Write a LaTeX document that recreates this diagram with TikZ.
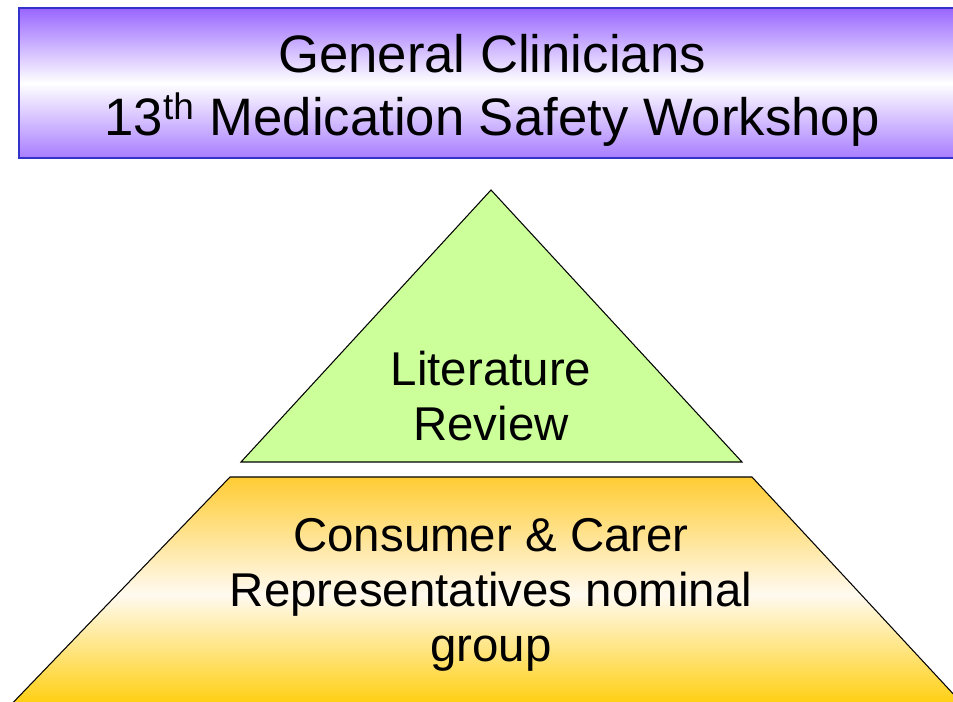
\documentclass[tikz,border=0pt]{standalone}
\usepackage{fontspec}
\setmainfont{Liberation Sans}
\usetikzlibrary{positioning}

\definecolor{titleviolet}{RGB}{153,102,255}
\definecolor{titleedge}{RGB}{51,51,204}
\definecolor{toplime}{RGB}{204,255,153}
\definecolor{baseamber}{RGB}{255,204,51}
\definecolor{basegold}{RGB}{255,204,0}
\definecolor{basecream}{RGB}{255,250,240}

\tikzset{tiertext/.style={align=center, font=\fontsize{27}{31.3}\selectfont}}

\begin{document}
\begin{tikzpicture}[x=0.02cm, y=-0.02cm]
\useasboundingbox (0,0) rectangle (953,702);

% title banner
\shadedraw[top color=titleviolet, bottom color=titleviolet!85, middle color=white, draw=titleedge, line width=1.1pt] (19,8) rectangle (975,158);
\node[align=center, font=\fontsize{30}{35.8}\selectfont] (title) at (492,90) {General Clinicians\\13\textsuperscript{th} Medication Safety Workshop};

% top of the pyramid
\coordinate (apex) at (491,190);
\coordinate (tipL) at (241,462);
\coordinate (tipR) at (742,462);
\filldraw[fill=toplime, draw=black, line width=0.6pt] (apex) -- (tipL) -- (tipR) -- cycle;
\node[tiertext] (lit) at (491,396) {Literature\\Review};

% base of the pyramid
\coordinate (baseTL) at (230,477);
\coordinate (baseTR) at (752,477);
\coordinate (baseBL) at (4,712);
\coordinate (baseBR) at (970,712);
\shadedraw[top color=baseamber, bottom color=basegold, middle color=basecream, draw=black, line width=0.6pt] (baseBL) -- (baseTL) -- (baseTR) -- (baseBR) -- cycle;
\node[tiertext] (group) at (491,595) {Consumer \& Carer\\Representatives nominal\\group};

\end{tikzpicture}
\end{document}
